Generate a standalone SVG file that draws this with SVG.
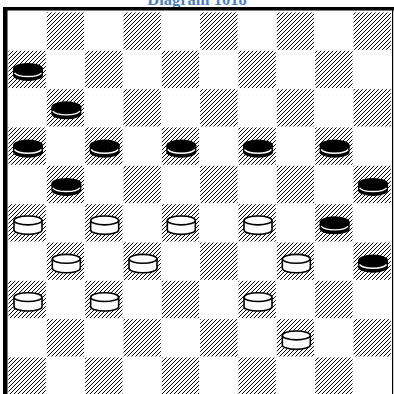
<svg xmlns="http://www.w3.org/2000/svg" xmlns:xlink="http://www.w3.org/1999/xlink" width="394" height="394" viewBox="0 0 394 394">
<style>
.title{font-family:"Liberation Serif","Times New Roman",serif;font-weight:bold;font-size:16.5px;fill:#4f7fbf}
.dk{fill:url(#hatch)}
</style>
<defs>
<pattern id="hatch" patternUnits="userSpaceOnUse" width="4" height="4">
<path d="M-1,1 l2,-2 M0,4 l4,-4 M3,5 l2,-2" stroke="#000" stroke-width="1.2" shape-rendering="crispEdges"/>
</pattern>
<g id="bp">
<path d="M5,18.3 V25 A15,5.7 0 0 0 35,25 V18.3 Z" fill="#000"/>
<ellipse cx="20" cy="18.3" rx="15" ry="5.7" fill="#000"/>
<path d="M6.5,22.5 A14,5 0 0 0 33.5,22.5" fill="none" stroke="#fff" stroke-width="1.4"/>
</g>
<g id="wp" fill="#fff" stroke="#000" stroke-width="1.6">
<path d="M6,16.8 V26.3 A14,4.4 0 0 0 34,26.3 V16.8"/>
<ellipse cx="20" cy="16.8" rx="14" ry="4.4"/>
</g>
</defs>
<rect width="394" height="394" fill="#fff"/>
<text class="title" x="197" y="5" text-anchor="middle">Diagram 1018</text>
<g id="board">
<rect x="3" y="7" width="4.5" height="387" fill="#000"/>
<rect x="3" y="7" width="391" height="3.5" fill="#000"/>
<rect x="392" y="7" width="1.2" height="387" fill="#000"/>
<g id="dark-squares">
<rect class="dk" x="46.8" y="12.5" width="37.3" height="37.3"/>
<rect class="dk" x="123.5" y="12.5" width="37.3" height="37.3"/>
<rect class="dk" x="200.2" y="12.5" width="37.3" height="37.3"/>
<rect class="dk" x="276.8" y="12.5" width="37.3" height="37.3"/>
<rect class="dk" x="353.5" y="12.5" width="37.3" height="37.3"/>
<rect class="dk" x="8.5" y="50.8" width="37.3" height="37.3"/>
<rect class="dk" x="85.2" y="50.8" width="37.3" height="37.3"/>
<rect class="dk" x="161.8" y="50.8" width="37.3" height="37.3"/>
<rect class="dk" x="238.5" y="50.8" width="37.3" height="37.3"/>
<rect class="dk" x="315.2" y="50.8" width="37.3" height="37.3"/>
<rect class="dk" x="46.8" y="89.2" width="37.3" height="37.3"/>
<rect class="dk" x="123.5" y="89.2" width="37.3" height="37.3"/>
<rect class="dk" x="200.2" y="89.2" width="37.3" height="37.3"/>
<rect class="dk" x="276.8" y="89.2" width="37.3" height="37.3"/>
<rect class="dk" x="353.5" y="89.2" width="37.3" height="37.3"/>
<rect class="dk" x="8.5" y="127.5" width="37.3" height="37.3"/>
<rect class="dk" x="85.2" y="127.5" width="37.3" height="37.3"/>
<rect class="dk" x="161.8" y="127.5" width="37.3" height="37.3"/>
<rect class="dk" x="238.5" y="127.5" width="37.3" height="37.3"/>
<rect class="dk" x="315.2" y="127.5" width="37.3" height="37.3"/>
<rect class="dk" x="46.8" y="165.8" width="37.3" height="37.3"/>
<rect class="dk" x="123.5" y="165.8" width="37.3" height="37.3"/>
<rect class="dk" x="200.2" y="165.8" width="37.3" height="37.3"/>
<rect class="dk" x="276.8" y="165.8" width="37.3" height="37.3"/>
<rect class="dk" x="353.5" y="165.8" width="37.3" height="37.3"/>
<rect class="dk" x="8.5" y="204.2" width="37.3" height="37.3"/>
<rect class="dk" x="85.2" y="204.2" width="37.3" height="37.3"/>
<rect class="dk" x="161.8" y="204.2" width="37.3" height="37.3"/>
<rect class="dk" x="238.5" y="204.2" width="37.3" height="37.3"/>
<rect class="dk" x="315.2" y="204.2" width="37.3" height="37.3"/>
<rect class="dk" x="46.8" y="242.5" width="37.3" height="37.3"/>
<rect class="dk" x="123.5" y="242.5" width="37.3" height="37.3"/>
<rect class="dk" x="200.2" y="242.5" width="37.3" height="37.3"/>
<rect class="dk" x="276.8" y="242.5" width="37.3" height="37.3"/>
<rect class="dk" x="353.5" y="242.5" width="37.3" height="37.3"/>
<rect class="dk" x="8.5" y="280.8" width="37.3" height="37.3"/>
<rect class="dk" x="85.2" y="280.8" width="37.3" height="37.3"/>
<rect class="dk" x="161.8" y="280.8" width="37.3" height="37.3"/>
<rect class="dk" x="238.5" y="280.8" width="37.3" height="37.3"/>
<rect class="dk" x="315.2" y="280.8" width="37.3" height="37.3"/>
<rect class="dk" x="46.8" y="319.2" width="37.3" height="37.3"/>
<rect class="dk" x="123.5" y="319.2" width="37.3" height="37.3"/>
<rect class="dk" x="200.2" y="319.2" width="37.3" height="37.3"/>
<rect class="dk" x="276.8" y="319.2" width="37.3" height="37.3"/>
<rect class="dk" x="353.5" y="319.2" width="37.3" height="37.3"/>
<rect class="dk" x="8.5" y="357.5" width="37.3" height="37.3"/>
<rect class="dk" x="85.2" y="357.5" width="37.3" height="37.3"/>
<rect class="dk" x="161.8" y="357.5" width="37.3" height="37.3"/>
<rect class="dk" x="238.5" y="357.5" width="37.3" height="37.3"/>
<rect class="dk" x="315.2" y="357.5" width="37.3" height="37.3"/>
</g>
</g>
<g id="black-pieces">
<use id="b1" xlink:href="#bp" href="#bp" x="8" y="50.33"/>
<use id="b2" xlink:href="#bp" href="#bp" x="46.33" y="88.67"/>
<use id="b3" xlink:href="#bp" href="#bp" x="8" y="127"/>
<use id="b4" xlink:href="#bp" href="#bp" x="84.67" y="127"/>
<use id="b5" xlink:href="#bp" href="#bp" x="161.33" y="127"/>
<use id="b6" xlink:href="#bp" href="#bp" x="238" y="127"/>
<use id="b7" xlink:href="#bp" href="#bp" x="314.67" y="127"/>
<use id="b8" xlink:href="#bp" href="#bp" x="46.33" y="165.33"/>
<use id="b9" xlink:href="#bp" href="#bp" x="353" y="165.33"/>
<use id="b10" xlink:href="#bp" href="#bp" x="314.67" y="203.67"/>
<use id="b11" xlink:href="#bp" href="#bp" x="353" y="242"/>
</g>
<g id="white-pieces">
<use id="w1" xlink:href="#wp" href="#wp" x="8" y="203.67"/>
<use id="w2" xlink:href="#wp" href="#wp" x="84.67" y="203.67"/>
<use id="w3" xlink:href="#wp" href="#wp" x="161.33" y="203.67"/>
<use id="w4" xlink:href="#wp" href="#wp" x="238" y="203.67"/>
<use id="w5" xlink:href="#wp" href="#wp" x="46.33" y="242"/>
<use id="w6" xlink:href="#wp" href="#wp" x="123" y="242"/>
<use id="w7" xlink:href="#wp" href="#wp" x="276.33" y="242"/>
<use id="w8" xlink:href="#wp" href="#wp" x="8" y="280.33"/>
<use id="w9" xlink:href="#wp" href="#wp" x="84.67" y="280.33"/>
<use id="w10" xlink:href="#wp" href="#wp" x="238" y="280.33"/>
<use id="w11" xlink:href="#wp" href="#wp" x="276.33" y="318.67"/>
</g>
</svg>
